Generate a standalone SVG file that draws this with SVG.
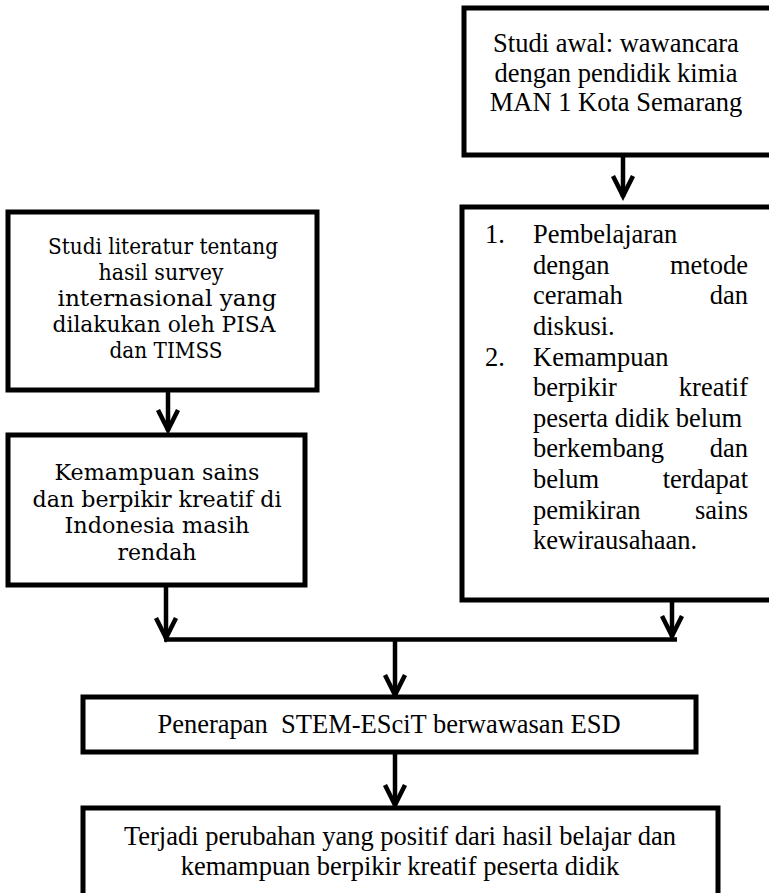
<svg xmlns="http://www.w3.org/2000/svg" width="769" height="893" viewBox="0 0 769 893">
<style>
.box{fill:#fff;stroke:#000;stroke-width:5}
.t{font-family:"Liberation Serif","Times New Roman",serif;font-size:26.5px;fill:#000}
.c{font-family:"DejaVu Serif",Cambria,serif;font-size:23px;fill:#000;text-anchor:middle}
.m{text-anchor:middle}
.e{text-anchor:end}
.con{fill:none;stroke:#000;stroke-width:4.5}
</style>
<defs>
<marker id="ah" markerUnits="userSpaceOnUse" orient="auto" markerWidth="40" markerHeight="40" viewBox="-30 -20 40 40" refX="0" refY="0" overflow="visible">
<path d="M-21,-10 L-1,0 L-21,10" fill="none" stroke="#000" stroke-width="4.5" stroke-linejoin="miter"/>
</marker>
</defs>
<g id="connectors">
<line class="con" x1="623" y1="157" x2="623" y2="197" marker-end="url(#ah)"/>
<line class="con" x1="168" y1="390" x2="168" y2="431" marker-end="url(#ah)"/>
<line class="con" x1="166" y1="585" x2="166" y2="639" marker-end="url(#ah)"/>
<line class="con" x1="672" y1="600" x2="672" y2="637" marker-end="url(#ah)"/>
<line class="con" x1="164" y1="639.5" x2="677" y2="639.5"/>
<line class="con" x1="395" y1="639" x2="395" y2="696" marker-end="url(#ah)"/>
<line class="con" x1="395" y1="752" x2="395" y2="806" marker-end="url(#ah)"/>
</g>
<g id="n1">
<rect class="box" x="464" y="8" width="320" height="147"/>
<text class="t m" x="616" y="52">Studi awal: wawancara</text>
<text class="t m" x="616" y="82">dengan pendidik kimia</text>
<text class="t m" x="616" y="111">MAN 1 Kota Semarang</text>
</g>
<g id="n2">
<rect class="box" x="462" y="207" width="322" height="393"/>
<text class="t" x="485" y="243">1.</text>
<text class="t" x="533" y="243">Pembelajaran</text>
<text class="t" x="533" y="274">dengan</text><text class="t e" x="748" y="274">metode</text>
<text class="t" x="533" y="304">ceramah</text><text class="t e" x="748" y="304">dan</text>
<text class="t" x="533" y="335">diskusi.</text>
<text class="t" x="485" y="366">2.</text>
<text class="t" x="533" y="366">Kemampuan</text>
<text class="t" x="533" y="396">berpikir</text><text class="t e" x="748" y="396">kreatif</text>
<text class="t" x="533" y="427">peserta didik belum</text>
<text class="t" x="533" y="457">berkembang</text><text class="t e" x="748" y="457">dan</text>
<text class="t" x="533" y="488">belum</text><text class="t e" x="748" y="488">terdapat</text>
<text class="t" x="533" y="519">pemikiran</text><text class="t e" x="748" y="519">sains</text>
<text class="t" x="533" y="549">kewirausahaan.</text>
</g>
<g id="n3">
<rect class="box" x="8" y="212" width="309" height="178"/>
<text class="c" x="163" y="254" textLength="230" lengthAdjust="spacingAndGlyphs">Studi literatur tentang</text>
<text class="c" x="161" y="280" textLength="125" lengthAdjust="spacingAndGlyphs">hasil survey</text>
<text class="c" x="167" y="306" textLength="219" lengthAdjust="spacingAndGlyphs">internasional yang</text>
<text class="c" x="164" y="332" textLength="223" lengthAdjust="spacingAndGlyphs">dilakukan oleh PISA</text>
<text class="c" x="166" y="358" textLength="113" lengthAdjust="spacingAndGlyphs">dan TIMSS</text>
</g>
<g id="n4">
<rect class="box" x="8" y="435" width="297" height="150"/>
<text class="c" x="157" y="480" textLength="205" lengthAdjust="spacingAndGlyphs">Kemampuan sains</text>
<text class="c" x="157" y="507" textLength="249" lengthAdjust="spacingAndGlyphs">dan berpikir kreatif di</text>
<text class="c" x="157" y="533" textLength="185" lengthAdjust="spacingAndGlyphs">Indonesia masih</text>
<text class="c" x="157" y="560" textLength="79" lengthAdjust="spacingAndGlyphs">rendah</text>
</g>
<g id="n5">
<rect class="box" x="83" y="697" width="613" height="55"/>
<text class="t m" x="389" y="733" xml:space="preserve">Penerapan  STEM-ESciT berwawasan ESD</text>
</g>
<g id="n6">
<rect class="box" x="83" y="808" width="635" height="95"/>
<text class="t m" x="400" y="845">Terjadi perubahan yang positif dari hasil belajar dan</text>
<text class="t m" x="400" y="875">kemampuan berpikir kreatif peserta didik</text>
</g>
</svg>
